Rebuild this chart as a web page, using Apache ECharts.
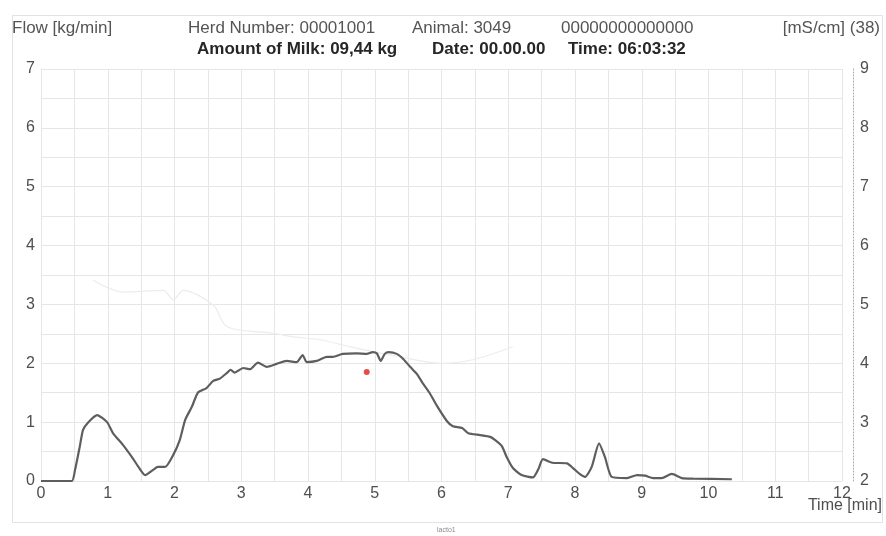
<!DOCTYPE html>
<html>
<head>
<meta charset="utf-8">
<script src="https://cdn.jsdelivr.net/npm/echarts@6/dist/echarts.min.js"></script>
<style>
  html, body { margin: 0; padding: 0; background: #fff; }
  #chart { width: 886px; height: 536px; }
</style>
</head>
<body>
<div id="chart"></div>
<script>
// Milk flow over time [min] -> [kg/min]
var flowTime = [0, 0.46, 0.51, 0.58, 0.63, 0.71, 0.84, 0.99, 1.08, 1.23, 1.36, 1.46, 1.56, 1.68, 1.75, 1.86, 1.98, 2.08, 2.16, 2.26, 2.35, 2.48, 2.58, 2.68, 2.79, 2.84, 2.9, 3.03, 3.13, 3.25, 3.38, 3.53, 3.68, 3.83, 3.92, 3.98, 4.13, 4.28, 4.37, 4.52, 4.73, 4.88, 4.97, 5.03, 5.09, 5.15, 5.21, 5.33, 5.43, 5.53, 5.63, 5.72, 5.82, 5.93, 6.08, 6.17, 6.31, 6.4, 6.58, 6.73, 6.8, 6.9, 6.98, 7.07, 7.2, 7.37, 7.45, 7.52, 7.66, 7.88, 7.97, 8.07, 8.15, 8.25, 8.36, 8.45, 8.55, 8.78, 8.93, 9.05, 9.17, 9.3, 9.45, 9.6, 9.77, 10.35];
var flowValue = [0, 0, 0.19, 0.58, 0.87, 1.0, 1.12, 1.0, 0.81, 0.61, 0.41, 0.24, 0.10, 0.19, 0.24, 0.24, 0.44, 0.7, 1.04, 1.26, 1.5, 1.58, 1.7, 1.74, 1.84, 1.89, 1.84, 1.92, 1.9, 2.01, 1.94, 1.99, 2.04, 2.02, 2.14, 2.02, 2.04, 2.11, 2.11, 2.16, 2.17, 2.16, 2.19, 2.17, 2.04, 2.16, 2.19, 2.16, 2.07, 1.94, 1.82, 1.66, 1.5, 1.28, 1.02, 0.93, 0.9, 0.81, 0.78, 0.75, 0.7, 0.6, 0.4, 0.22, 0.1, 0.06, 0.2, 0.37, 0.31, 0.3, 0.22, 0.12, 0.07, 0.24, 0.64, 0.4, 0.07, 0.05, 0.1, 0.09, 0.05, 0.05, 0.12, 0.05, 0.04, 0.03];

// Conductivity trace [mS/cm] (faint)
var condTime = [0.78, 1.23, 1.83, 1.98, 2.13, 2.58, 2.79, 3.48, 3.78, 4.18, 4.63, 5.38, 5.98, 6.47, 7.07];
var condValue = [5.41, 5.21, 5.24, 5.08, 5.24, 4.99, 4.62, 4.51, 4.45, 4.40, 4.28, 4.11, 4.0, 4.06, 4.28];

// Marker point
var markTime = [4.88];
var markFlow = [1.85];

// Axis ranges
var xTicks = [0, 12];
var flowRange = [0, 7];
var condRange = [2, 9];

// Header texts
var headerLeft = 'Flow [kg/min]';
var headerRight = '[mS/cm] (38)';
var herdText = 'Herd Number: 00001001';
var animalText = 'Animal: 3049';
var idText = '00000000000000';
var milkText = 'Amount of Milk: 09,44 kg';
var dateText = 'Date: 00.00.00';
var timeText = 'Time: 06:03:32';
var xName = 'Time [min]';
var footer = 'lacto1';

function zip(a, b) {
  var out = [];
  for (var i = 0; i < a.length; i++) out.push([a[i], b[i]]);
  return out;
}

var FONT = '"Liberation Sans", Arial, sans-serif';
var gridColor = '#e6e6e6';
var labelColor = '#4f4f4f';

function intOnly(v) {
  return Math.abs(v - Math.round(v)) < 1e-6 ? String(Math.round(v)) : '';
}

function hdr(text, x, y, opts) {
  opts = opts || {};
  return {
    type: 'text', left: x, top: y, silent: true,
    style: {
      text: text, x: 0, y: 0,
      font: (opts.bold ? 'bold ' : '') + (opts.size || 17) + 'px ' + FONT,
      fill: opts.color || '#555', textAlign: opts.align || 'left', textVerticalAlign: 'middle'
    }
  };
}

var chart = echarts.init(document.getElementById('chart'));
chart.setOption({
  backgroundColor: '#fff',
  animation: false,
  grid: { left: 41, right: 44, top: 69, bottom: 55, containLabel: false },
  xAxis: {
    type: 'value', min: xTicks[0], max: xTicks[1], interval: 0.5,
    axisLine: { show: true, lineStyle: { color: gridColor } },
    axisTick: { show: false },
    axisLabel: { formatter: intOnly, color: labelColor, fontSize: 16, fontFamily: FONT, margin: 5, showMaxLabel: true, showMinLabel: true },
    splitLine: { show: true, lineStyle: { color: gridColor, width: 1 } }
  },
  yAxis: [{
    type: 'value', min: flowRange[0], max: flowRange[1], interval: 0.5, position: 'left',
    axisLine: { show: true, lineStyle: { color: gridColor } },
    axisTick: { show: false },
    axisLabel: { formatter: intOnly, color: labelColor, fontSize: 16, fontFamily: FONT, margin: 6 },
    splitLine: { show: true, lineStyle: { color: gridColor, width: 1 } }
  }, {
    type: 'value', min: condRange[0], max: condRange[1], interval: 0.5, position: 'right', offset: 11,
    axisLine: { show: true, lineStyle: { color: '#a8a8a8', type: [1, 2], width: 1 } },
    axisTick: { show: false },
    axisLabel: { formatter: intOnly, color: labelColor, fontSize: 16, fontFamily: FONT, margin: 7 },
    splitLine: { show: false }
  }],
  series: [{
    name: 'Conductivity', type: 'line', yAxisIndex: 1,
    data: zip(condTime, condValue), showSymbol: false, smooth: 0.3,
    lineStyle: { color: '#ececec', width: 1.2 }, z: 2
  }, {
    name: 'Flow', type: 'line', yAxisIndex: 0,
    data: zip(flowTime, flowValue), showSymbol: false, smooth: 0.2,
    lineStyle: { color: '#5e5e5e', width: 2.2 }, z: 3
  }, {
    name: 'Mark', type: 'scatter', yAxisIndex: 0,
    data: zip(markTime, markFlow), symbolSize: 6,
    itemStyle: { color: '#e0201c' }, z: 4
  }],
  graphic: [
    { type: 'rect', left: 10, top: 13, silent: true, z: -1,
      shape: { width: 870, height: 507 },
      style: { fill: 'none', stroke: '#e2e2e2', lineWidth: 1 } },
    hdr(headerLeft, 12, 20),
    hdr(herdText, 188, 20),
    hdr(animalText, 412, 20),
    hdr(idText, 561, 20),
    { type: 'text', right: 6, top: 20, silent: true,
      style: { text: headerRight, font: '17px ' + FONT, fill: '#555', textVerticalAlign: 'middle' } },
    hdr(milkText, 197, 41, { bold: true, color: '#262626' }),
    hdr(dateText, 432, 41, { bold: true, color: '#262626' }),
    hdr(timeText, 568, 41, { bold: true, color: '#262626' }),
    { type: 'text', right: 4, top: 498, silent: true,
      style: { text: xName, font: '16px ' + FONT, fill: labelColor } },
    { type: 'text', left: 437, top: 527, silent: true,
      style: { text: footer, font: '7px ' + FONT, fill: '#8a8a8a' } }
  ]
});
</script>
</body>
</html>
